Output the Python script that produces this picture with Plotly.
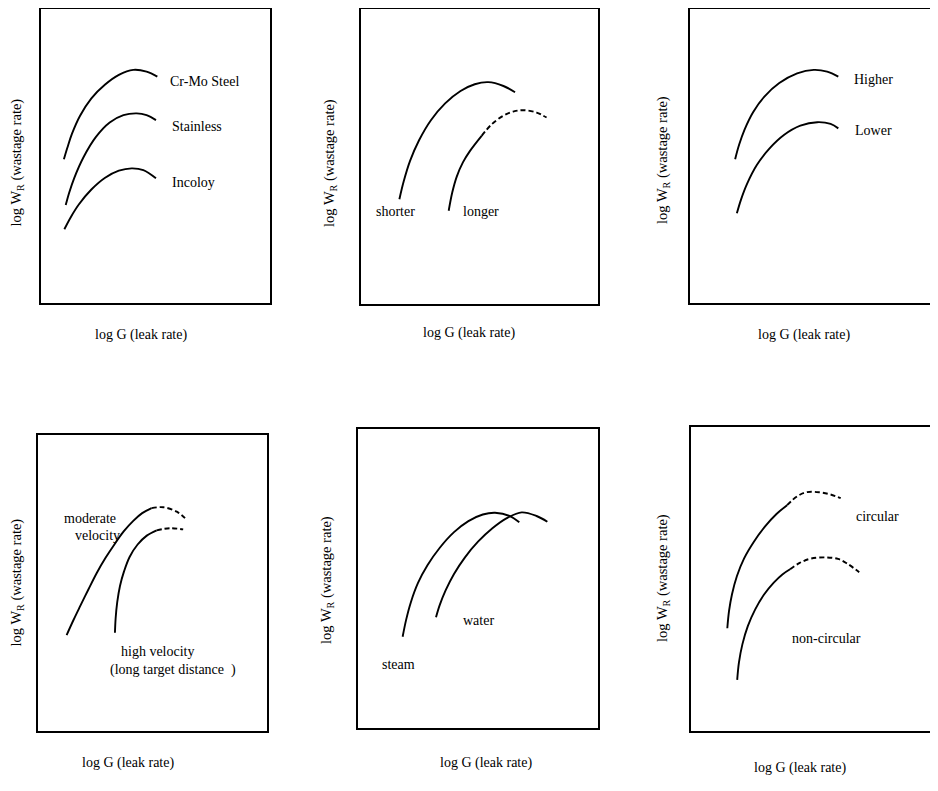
import plotly.graph_objects as go

# ---------------- data (normalised 0-100 within each panel) ----------------
# Panel 1: materials
p1_crmo_x = [10.0, 11.5, 13.5, 17.0, 22.0, 28.0, 34.0, 40.3, 46.1, 50.8]
p1_crmo_y = [48.9, 52.8, 57.5, 63.6, 69.6, 74.3, 77.6, 79.3, 78.7, 77.0]
p1_stainless_x = [10.8, 12.3, 14.5, 18.5, 24.0, 30.0, 36.0, 41.8, 46.1, 50.2]
p1_stainless_y = [33.3, 37.5, 42.5, 49.5, 56.5, 61.4, 63.9, 64.5, 63.9, 62.2]
p1_incoloy_x = [10.2, 13.0, 16.5, 22.0, 28.0, 34.0, 39.6, 44.7, 50.2]
p1_incoloy_y = [25.1, 29.2, 33.5, 38.6, 42.6, 45.0, 45.8, 45.2, 42.4]

# Panel 2: target distance
p2_shorter_x = [16.2, 18.0, 20.7, 24.5, 29.5, 35.5, 42.0, 48.0, 53.7, 60.1, 65.0]
p2_shorter_y = [35.5, 41.5, 48.5, 55.5, 62.3, 68.0, 72.2, 74.5, 75.2, 73.9, 71.8]
p2_longer_solid_x = [37.0, 38.5, 40.4, 43.0, 46.0, 50.9]
p2_longer_solid_y = [31.6, 37.8, 43.2, 48.0, 51.9, 57.0]
p2_longer_dash_x = [50.9, 55.0, 60.0, 64.5, 68.5, 74.1, 78.3]
p2_longer_dash_y = [57.0, 60.8, 63.8, 65.3, 65.7, 64.9, 63.2]

# Panel 3: temperature / pressure
p3_higher_x = [18.2, 19.8, 22.0, 25.5, 30.0, 36.0, 43.2, 49.9, 55.3, 59.8]
p3_higher_y = [48.9, 53.8, 59.0, 65.0, 70.2, 74.8, 78.1, 79.3, 78.7, 77.0]
p3_lower_x = [18.9, 20.5, 23.0, 27.0, 32.0, 38.0, 44.5, 51.3, 56.7, 59.8]
p3_lower_y = [30.5, 35.0, 40.5, 47.0, 52.5, 57.2, 60.3, 61.5, 60.9, 59.4]

# Panel 4: velocity
p4_mod_solid_x = [12.5, 15.5, 18.3, 22.0, 25.6, 29.5, 33.5, 37.5, 41.6, 45.5, 49.6]
p4_mod_solid_y = [32.4, 37.5, 42.0, 47.8, 53.3, 58.5, 63.2, 67.5, 71.0, 73.6, 75.3]
p4_mod_dash_x = [49.6, 54.7, 60.6, 64.2]
p4_mod_dash_y = [75.3, 75.6, 74.1, 71.9]
p4_high_solid_x = [33.6, 33.9, 34.6, 35.8, 37.6, 40.0, 43.5, 47.5, 51.8]
p4_high_solid_y = [33.2, 38.0, 43.5, 49.0, 54.0, 58.8, 63.0, 66.0, 67.8]
p4_high_dash_x = [51.8, 57.6, 63.4]
p4_high_dash_y = [67.8, 68.5, 68.1]

# Panel 5: fluid
p5_steam_x = [18.6, 20.0, 22.0, 25.0, 29.0, 34.0, 40.0, 46.0, 52.0, 57.1, 63.3, 67.2]
p5_steam_y = [30.5, 36.0, 42.0, 48.5, 54.5, 60.2, 65.5, 69.2, 71.4, 72.0, 70.9, 68.8]
p5_water_x = [32.5, 34.0, 36.5, 40.0, 44.5, 50.0, 56.0, 62.0, 68.2, 74.4, 78.9]
p5_water_y = [37.0, 41.0, 46.0, 51.5, 57.0, 62.3, 66.8, 70.2, 72.1, 70.9, 69.0]

# Panel 6: leak shape
p6_circ_solid_x = [14.7, 15.4, 16.6, 18.6, 21.5, 25.4, 30.0, 34.5, 38.9]
p6_circ_solid_y = [33.8, 39.5, 45.0, 51.0, 56.8, 62.2, 67.3, 71.3, 74.3]
p6_circ_dash_x = [38.9, 43.0, 47.0, 52.2, 56.5, 60.6]
p6_circ_dash_y = [74.3, 77.2, 78.6, 78.5, 77.8, 76.6]
p6_noncirc_solid_x = [18.7, 19.4, 20.8, 23.0, 26.0, 29.5, 33.5, 37.0, 40.1]
p6_noncirc_solid_y = [16.8, 22.5, 28.5, 34.5, 40.0, 44.8, 48.8, 51.5, 53.2]
p6_noncirc_dash_x = [40.1, 44.0, 48.5, 54.9, 59.5, 63.0, 68.1]
p6_noncirc_dash_y = [53.2, 55.3, 56.7, 57.1, 56.6, 55.2, 52.2]

# Curve labels: (panel, text, x, y, anchor)
labels = [
    (1, "Cr-Mo Steel", 55.6, 75.3, "left"),
    (1, "Stainless", 56.3, 60.2, "left"),
    (1, "Incoloy", 56.3, 40.9, "left"),
    (2, "shorter", 14.6, 31.3, "center"),
    (2, "longer", 50.6, 31.5, "center"),
    (3, "Higher", 73.9, 75.9, "center"),
    (3, "Lower", 73.9, 58.6, "center"),
    (4, "moderate", 22.9, 71.9, "center"),
    (4, "velocity", 25.8, 65.9, "center"),
    (4, "high velocity", 52.2, 26.8, "center"),
    (4, "(long target distance  )", 59.1, 20.6, "center"),
    (5, "water", 50.1, 36.1, "center"),
    (5, "steam", 17.0, 21.1, "center"),
    (6, "circular", 75.7, 70.6, "center"),
    (6, "non-circular", 54.7, 30.4, "center"),
]

x_title = "log G (leak rate)"
y_title = "log W<sub>R</sub> (wastage rate)"

# ---------------- layout geometry (pixels in the 938x791 window) ----------------
WIN_W, WIN_H = 938, 791
OFF = 8                      # default page body margin
W, H = WIN_W - OFF, 770      # right-hand panels run to the window edge
# (left, right, top, bottom) of each panel box in window pixels
boxes = {
    1: (41, 270, 9, 303),
    2: (361, 598, 9, 304),
    3: (690, 940, 9, 303),
    4: (38, 267, 435, 731),
    5: (358, 598, 429, 728),
    6: (691, 940, 427, 731),
}
xtitle_pos = {1: (141, 335), 2: (469, 333), 3: (804, 335),
              4: (128, 763), 5: (486, 763), 6: (800, 768)}
ytitle_pos = {1: (16.5, 163), 2: (330, 163), 3: (663, 160),
              4: (16.5, 583), 5: (327, 580), 6: (663, 578)}


def fx(px):
    return (px - OFF) / W


def fy(py):
    return 1 - (py - OFF) / H


FONT = "Liberation Serif, Times New Roman, serif"
LW = 1.9
FS = 14

fig = go.Figure()


def add_curve(panel, xs, ys, dash="solid"):
    sfx = "" if panel == 1 else str(panel)
    fig.add_trace(go.Scatter(
        x=xs, y=ys, mode="lines",
        line=dict(color="black", width=LW, shape="spline", smoothing=1.0, dash=dash),
        xaxis="x" + sfx, yaxis="y" + sfx, showlegend=False, hoverinfo="skip"))


DASH = "5px,3px"
add_curve(1, p1_crmo_x, p1_crmo_y)
add_curve(1, p1_stainless_x, p1_stainless_y)
add_curve(1, p1_incoloy_x, p1_incoloy_y)
add_curve(2, p2_shorter_x, p2_shorter_y)
add_curve(2, p2_longer_solid_x, p2_longer_solid_y)
add_curve(2, p2_longer_dash_x, p2_longer_dash_y, DASH)
add_curve(3, p3_higher_x, p3_higher_y)
add_curve(3, p3_lower_x, p3_lower_y)
add_curve(4, p4_mod_solid_x, p4_mod_solid_y)
add_curve(4, p4_mod_dash_x, p4_mod_dash_y, DASH)
add_curve(4, p4_high_solid_x, p4_high_solid_y)
add_curve(4, p4_high_dash_x, p4_high_dash_y, DASH)
add_curve(5, p5_steam_x, p5_steam_y)
add_curve(5, p5_water_x, p5_water_y)
add_curve(6, p6_circ_solid_x, p6_circ_solid_y)
add_curve(6, p6_circ_dash_x, p6_circ_dash_y, DASH)
add_curve(6, p6_noncirc_solid_x, p6_noncirc_solid_y)
add_curve(6, p6_noncirc_dash_x, p6_noncirc_dash_y, DASH)

layout = dict(
    width=W, height=H, margin=dict(l=0, r=0, t=0, b=0),
    paper_bgcolor="white", plot_bgcolor="white", showlegend=False,
    font=dict(family=FONT, size=FS, color="black"),
)
annotations = []
for p, (l, r, t, b) in boxes.items():
    sfx = "" if p == 1 else str(p)
    open_right = r >= WIN_W
    layout["xaxis" + sfx] = dict(
        domain=[fx(l), min(fx(r), 1.0)], range=[0, 100], anchor="y" + sfx,
        showline=True, mirror=True, linecolor="black", linewidth=1.8,
        showgrid=False, zeroline=False, showticklabels=False, ticks="")
    layout["yaxis" + sfx] = dict(
        domain=[fy(b), fy(t)], range=[0, 100], anchor="x" + sfx,
        showline=True, mirror=not open_right, linecolor="black", linewidth=1.8,
        showgrid=False, zeroline=False, showticklabels=False, ticks="")
    xx, xy = xtitle_pos[p]
    annotations.append(dict(text=x_title, x=fx(xx), y=fy(xy), xref="paper", yref="paper",
                            showarrow=False, xanchor="center", yanchor="middle",
                            font=dict(family=FONT, size=FS, color="black")))
    yx, yy = ytitle_pos[p]
    annotations.append(dict(text=y_title, x=fx(yx), y=fy(yy), xref="paper", yref="paper",
                            showarrow=False, xanchor="center", yanchor="middle", textangle=-90,
                            font=dict(family=FONT, size=FS + 0.5, color="black")))

for p, txt, lx, ly, anc in labels:
    sfx = "" if p == 1 else str(p)
    annotations.append(dict(text=txt, x=lx, y=ly, xref="x" + sfx, yref="y" + sfx,
                            showarrow=False, xanchor=anc, yanchor="middle",
                            font=dict(family=FONT, size=FS, color="black")))

layout["annotations"] = annotations
fig.update_layout(**layout)
fig.write_html("out.html")
